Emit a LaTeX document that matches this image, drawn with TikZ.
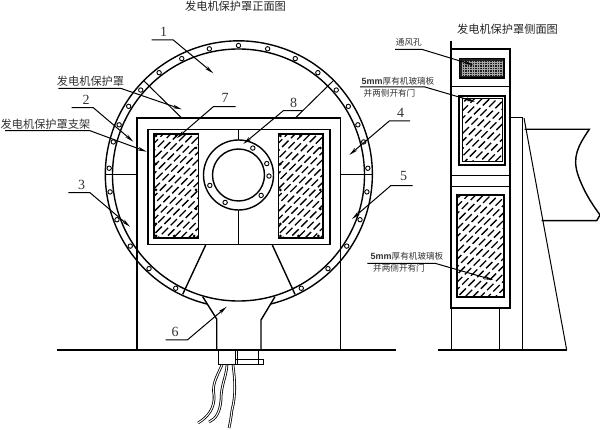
\documentclass[tikz,border=0pt]{standalone}
\usepackage{fontspec}
\setmainfont{Noto Sans CJK SC}
\newfontfamily\digitfont{Liberation Serif}
\usetikzlibrary{arrows.meta,calc,positioning}

\begin{document}
\begin{tikzpicture}[x=1pt,y=-1pt,>={Stealth[length=9pt,width=3.6pt]},line cap=butt,line join=miter,
		thin line/.style={line width=1pt},
		body line/.style={line width=1.4pt},
		thick wall/.style={line width=2.2pt},
		leader/.style={line width=1pt},
		title/.style={inner sep=0pt,text=black!85,font=\fontsize{11.2}{11}\selectfont},
		note/.style={inner sep=0pt,text=black!80,font=\fontsize{8.6}{9}\selectfont},
		num/.style={inner sep=0pt,text=black!80,font=\digitfont\fontsize{14}{14}\selectfont},
		bolt/.style={draw,circle,line width=.9pt,fill=white,inner sep=0pt,minimum size=4.4pt},
		glassdot/.style={fill=black,circle,inner sep=0pt,minimum size=3pt},
		hatch/.style={line width=1.3pt,dash pattern=on 9pt off 3.5pt},
		wire/.style={double=white,double distance=1pt,line width=.8pt}]
		\useasboundingbox (0,0) rectangle (600,430);
		\fill[white] (0,0) rectangle (600,430);

		% front view: ring
		\coordinate (c) at (238.5,175);
		\draw[body line] (c) circle[radius=126];
		\draw[body line] (207,304) arc[start angle=103.8,end angle=436.2,radius=133.5];

		% struts
		\draw[thin line] (144,81) -- (181.7,118) (333,81) -- (295.3,118);
		\draw[thin line] (105.5,175) -- (137,175) (340.5,175) -- (371.5,175);
		\draw[body line] (205.7,245) -- (182.7,294.3) (272.3,245) -- (295,294.3);

		% bolts
		\foreach \a in {29,43.7,56.7,69.8,82.5,93,104.8,112.8,122,131,142.2,154,167}{
			\node[bolt] at ({238.5+129.5*sin(\a)},{175+129.5*cos(\a)}) {};
			\node[bolt] at ({238.5-129.5*sin(\a)},{175+129.5*cos(\a)}) {};
		}
		\node[bolt] at (238.5,45.5) {};

		% frame and inner box
		\draw[body line] (137,350) -- (137,118) -- (340.5,118) -- (340.5,350);
		\draw[body line] (148,129.3) rectangle (330,244.5);
		\draw[body line] (238.5,129.3) -- (238.5,140) (238.5,210) -- (238.5,244.5);

		% flange
		\draw[body line,fill=white] (238.5,175) circle[radius=35];
		\draw[body line] (238.5,175) circle[radius=26];
		\foreach \a in {22,62,-2,-42,-116,-160}{
			\node[bolt] at ({238.5+30.5*sin(\a+90)},{175+30.5*cos(\a+90)}) {};
		}

		% front windows
		\foreach \wx in {154,278.3}{
			\begin{scope}
				\clip (\wx,134) rectangle +(44.7,104);
				\foreach \s in {0,...,21}{
					\draw[hatch,dash phase=\s*3.7pt] (\wx-6,134+\s*7.6) -- +(56,-56);
				}
			\end{scope}
			\draw[body line] (\wx,134) rectangle +(44.7,104);
			\foreach \dx/\dy in {2/2,22/2,42/14,2/30,42/56,2/56,42/75,2/90,2/102,20/102,40/102}{
				\node[glassdot] at (\wx+\dx,134+\dy) {};
			}
		}

		% funnel and ground
		\draw[body line] (202.7,296.7) -- (216.7,319) -- (216.7,350);
		\draw[body line] (275,296.7) -- (261,320) -- (261,350);
		\draw[body line] (57.3,350) -- (396,350);
		\draw[body line] (438,350) -- (566.7,350);
		\draw[thin line] (218.3,350) rectangle (235.3,364.7);
		\draw[thin line] (235.7,359.3) rectangle (263.3,365);
		\draw[thin line] (237.3,350) -- (237.3,365) (258.3,350) -- (258.3,365);

		% wires
		\draw[wire] (222,365) .. controls (216,378) and (212,385) .. (214,395) .. controls (215,408) and (208,417) .. (198,423);
		\draw[wire] (227,365) .. controls (226,378) and (221,385) .. (221,400) .. controls (220,412) and (216,419) .. (209,422);
		\draw[wire] (233,365) .. controls (235,380) and (236,395) .. (232,410) .. controls (231,418) and (230,424) .. (229,428);

		% side view
		\draw[thick wall] (450.7,41.5) -- (450.7,308) -- (510,308) -- (510,49.3) -- (450.7,49.3);
		\draw[body line] (450.7,86.7) -- (510,86.7);
		\draw[body line] (450.7,175.7) -- (510,175.7);
		\draw[body line] (450.7,186.7) -- (510,186.7);
		\draw[thin line] (451,308) -- (451,350) (499,308) -- (499,350);

		% vent
		\draw[fill=black!88,line width=1.4pt] (459.5,58.5) rectangle (504,78);
		\foreach \vx in {462,464.5,...,502}{
			\draw[white!65!black,line width=.4pt] (\vx,61) -- (\vx,76);
		}
		\foreach \vy in {62,64.5,...,75}{
			\draw[white!65!black,line width=.4pt] (462,\vy) -- (502,\vy);
		}

		% side windows
		\draw[body line] (459,96) rectangle (505,165);
		\begin{scope}
			\clip (462.3,99) rectangle (502.3,161.7);
			\foreach \s in {0,...,15}{
				\draw[hatch,dash phase=\s*3.7pt] (458,100+\s*7.6) -- +(50,-50);
			}
		\end{scope}
		\draw[thin line] (462.3,99) rectangle (502.3,161.7);
		\begin{scope}
			\clip (457,195) rectangle (504,296.7);
			\foreach \s in {0,...,21}{
				\draw[hatch,dash phase=\s*3.7pt] (452,196+\s*7.6) -- +(60,-60);
			}
		\end{scope}
		\draw[thick wall] (457,195) rectangle (504,296.7);

		% shaft and stand
		\draw[thin line] (510,118) -- (522.7,118) -- (522.7,350);
		\draw[thin line] (524,118) -- (566.7,350);
		\draw[body line] (524.5,129.3) -- (589.3,129.3)
			.. controls (578,146) and (572,157) .. (578,175)
			.. controls (584,192) and (592,204) .. (600,215) -- (596.7,220.7) -- (541.7,220.7);

		% titles and labels
		\node[title] (tfront) at (235.5,6) {发电机保护罩正面图};
		\node[title] (tside) at (507.5,29) {发电机保护罩侧面图};
		\node[num] (n1) at (163.5,32) {1};
		\node[num] (n2) at (86,100) {2};
		\node[num] (n3) at (81.7,185) {3};
		\node[num] (n4) at (400.5,112.5) {4};
		\node[num] (n5) at (403.7,176) {5};
		\node[num] (n6) at (175,332) {6};
		\node[num] (n7) at (225,98) {7};
		\node[num] (n8) at (293.5,103) {8};
		\node[title,text=black!80] (tcover) at (90.5,81.5) {发电机保护罩};
		\node[title,text=black!80] (tstand) at (45.5,124) {发电机保护罩支架};
		\node[note] (tvent) at (408.8,42.5) {通风孔};
		\node[note] (tglassa) at (398,81) {{\fontspec{Liberation Sans Bold}\fontsize{9}{8}\selectfont 5mm}厚有机玻璃板};
		\node[note] (tdoora) at (389.5,93.7) {并两侧开有门};
		\node[note] (tglassb) at (407,256.7) {{\fontspec{Liberation Sans Bold}\fontsize{9}{8}\selectfont 5mm}厚有机玻璃板};
		\node[note] (tdoorb) at (399,268.5) {并两侧开有门};

		% leaders
		\coordinate (a1) at (151.7,40);   \coordinate (b1) at (173.3,40);   \coordinate (e1) at (213.3,73.3);
		\coordinate (a2) at (71.7,107.7); \coordinate (b2) at (93.3,107.7); \coordinate (e2) at (133.3,141.7);
		\coordinate (a3) at (68.3,192.7); \coordinate (b3) at (90,192.7);   \coordinate (e3) at (130,226.7);
		\coordinate (a4) at (410,121);    \coordinate (b4) at (389.3,121);  \coordinate (e4) at (349.3,155);
		\coordinate (a5) at (412.7,185.7);\coordinate (b5) at (390.7,185.7);\coordinate (e5) at (352,219);
		\coordinate (a6) at (165.7,340);  \coordinate (b6) at (187.3,340);  \coordinate (e6) at (226.7,306.7);
		\coordinate (a7) at (235.7,106.7);\coordinate (b7) at (213.3,106.7);\coordinate (e7) at (176.7,138.3);
		\coordinate (a8) at (302.7,110.7);\coordinate (b8) at (283.3,110.7);\coordinate (e8) at (243.3,144);
		\coordinate (ac) at (58.3,88.3);  \coordinate (bc) at (120.7,88.3); \coordinate (ec) at (181.7,109.3);
		\coordinate (as) at (5,130.7);    \coordinate (bs) at (90,130.7);   \coordinate (es) at (146.7,151.7);
		\coordinate (av) at (395,49.3);   \coordinate (bv) at (421.7,49.3); \coordinate (ev) at (473.3,65);
		\coordinate (ag) at (360,87);     \coordinate (bg) at (425,87);     \coordinate (eg) at (475,101.7);
		\coordinate (ah) at (367.3,263.3);\coordinate (bh) at (435,263.3);  \coordinate (eh) at (493.3,280);
		\foreach \i in {1,2,3,4,5,6,7,8,c,s,v,g,h}{
			\draw[leader,->] (a\i) -- (b\i) -- (e\i);
		}
\end{tikzpicture}
\end{document}
